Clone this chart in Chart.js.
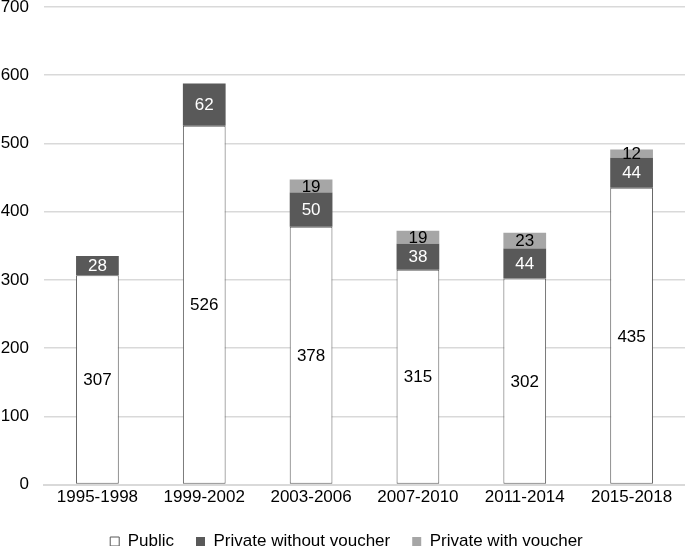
<!DOCTYPE html>
<html><head><meta charset="utf-8">
<script src="https://cdn.jsdelivr.net/npm/chart.js@4"></script>
<style>html,body{margin:0;padding:0;background:#fff}#wrap{width:685px;height:546px}</style>
</head><body><div id="wrap"><canvas id="c" width="685" height="546"></canvas></div>
<script>
const categories = ["1995-1998","1999-2002","2003-2006","2007-2010","2011-2014","2015-2018"];
const publicVals = [307,526,378,315,302,435];
const privateNoVoucher = [28,62,50,38,44,44];
const privateVoucher = [null,null,19,19,23,12];
const yTicks = [0,100,200,300,400,500,600,700];
const FONT = '"Liberation Sans", Arial, sans-serif';

const labelPlugin = {
  id:'labels',
  afterInit(chart){
    const lg = chart.legend;
    if(lg){
      const orig = lg.fit;
      lg.fit = function(){ orig.call(this); this.height = 35; };
    }
  },
  afterLayout(chart){
    if(chart.legend){ chart.legend.left += 8; }
  },
  afterDatasetsDraw(chart){
    const ctx = chart.ctx;
    const colors = ['#000','#fff','#000'];
    chart.data.datasets.forEach((ds,i)=>{
      const meta = chart.getDatasetMeta(i);
      meta.data.forEach((bar,j)=>{
        const v = ds.data[j];
        if(v==null) return;
        const y = (bar.y + bar.base)/2;
        ctx.save();
        ctx.fillStyle = colors[i];
        ctx.font = '17px ' + FONT;
        ctx.textAlign='center';ctx.textBaseline='middle';
        ctx.fillText(String(v), bar.x, y+1);
        ctx.restore();
      });
    });
  }
};

new Chart(document.getElementById('c'),{
  type:'bar',
  data:{labels:categories,datasets:[
    {label:'Public',data:publicVals,backgroundColor:'#ffffff',borderColor:'#595959',borderWidth:1,borderSkipped:false,barPercentage:0.4,categoryPercentage:1},
    {label:'Private without voucher',data:privateNoVoucher,backgroundColor:'#595959',borderColor:'#595959',borderWidth:0,barPercentage:0.4,categoryPercentage:1},
    {label:'Private with voucher',data:privateVoucher,backgroundColor:'#a6a6a6',borderWidth:0,barPercentage:0.4,categoryPercentage:1}
  ]},
  options:{
    responsive:false,animation:false,
    layout:{padding:{top:0,right:0,left:0,bottom:0}},
    plugins:{
      tooltip:{enabled:false},
      legend:{position:'bottom',labels:{boxWidth:9,boxHeight:9,color:'#000',font:{size:17,family:FONT},padding:22,
        generateLabels(chart){
          return chart.data.datasets.map((ds,i)=>({text:ds.label,fillStyle:ds.backgroundColor,strokeStyle:i===0?'#595959':ds.backgroundColor,lineWidth:i===0?1:0,datasetIndex:i,fontColor:'#000'}));
        }}}
    },
    scales:{
      x:{stacked:true,grid:{display:false,drawTicks:false},border:{display:true,color:'#d9d9d9',width:2},
        ticks:{color:'#000',font:{size:17,family:FONT},padding:3}},
      y:{stacked:true,min:0,max:700,afterBuildTicks(axis){axis.ticks=yTicks.map(v=>({value:v}));},
        afterFit(axis){axis.width=44;axis.paddingTop=7;axis.paddingBottom=0;},
        grid:{color:'#d9d9d9',lineWidth:1.5,drawTicks:false},border:{display:false},
        ticks:{color:'#000',font:{size:17,family:FONT},padding:15}}
    }
  },
  plugins:[labelPlugin]
});
</script></body></html>
